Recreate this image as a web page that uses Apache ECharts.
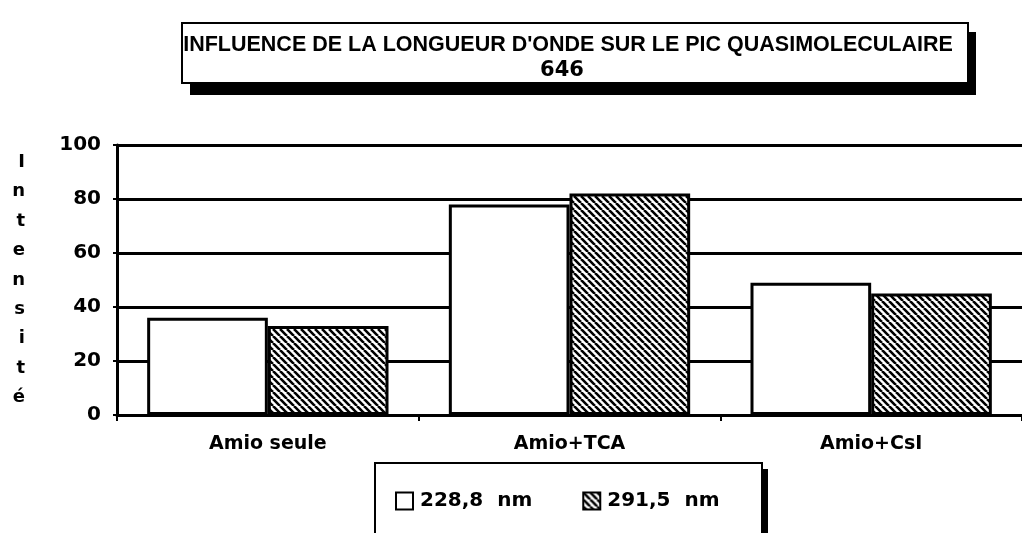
<!DOCTYPE html>
<html>
<head>
<meta charset="utf-8">
<script src="https://cdn.jsdelivr.net/npm/echarts@6/dist/echarts.min.js"></script>
<style>
  html, body { margin: 0; padding: 0; background: #fff; }
  #chart { width: 1022px; height: 533px; }
</style>
</head>
<body>
<div id="chart"></div>
<script>
// Intensité du pic quasimoléculaire 646 selon la longueur d'onde
const categories = ['Amio seule', 'Amio+TCA', 'Amio+CsI'];
const seriesNames = ['228,8  nm', '291,5  nm'];
const values228 = [36, 78, 49];
const values291 = [33, 82, 45];
const yTicks = { min: 0, max: 100, interval: 20 };
const titleLines = ["INFLUENCE DE LA LONGUEUR D'ONDE SUR LE PIC QUASIMOLECULAIRE", '646'];
const yName = 'Intensité';

// Diagonal hatching tile (black lines on white, "\" direction)
function hatchTile() {
  const n = 7;
  const c = document.createElement('canvas');
  c.width = n; c.height = n;
  const g = c.getContext('2d');
  g.fillStyle = '#fff';
  g.fillRect(0, 0, n, n);
  g.strokeStyle = '#000';
  g.lineWidth = 2.6;
  g.beginPath();
  [-n, 0, n].forEach(function (o) { g.moveTo(o, 0); g.lineTo(o + n, n); });
  g.stroke();
  return c;
}

const chart = echarts.init(document.getElementById('chart'), null, { renderer: 'canvas' });
const digitFont = 'DejaVu Sans';

chart.setOption({
  animation: false,
  backgroundColor: '#fff',
  grid: { left: 117, right: 0, top: 145, bottom: 118, containLabel: false },
  graphic: [
    // title box with drop shadow
    { type: 'rect', z: 0, shape: { x: 190, y: 32, width: 786, height: 63 }, style: { fill: '#000' } },
    { type: 'rect', z: 1, shape: { x: 182, y: 23, width: 786, height: 60 }, style: { fill: '#fff', stroke: '#000', lineWidth: 2 } },
    { type: 'text', z: 2, style: { text: titleLines[0], x: 568, y: 45, textAlign: 'center', textVerticalAlign: 'middle',
        font: 'bold 21.5px "Liberation Sans"', fill: '#000' } },
    { type: 'text', z: 2, style: { text: titleLines[1], x: 562, y: 71, textAlign: 'center', textVerticalAlign: 'middle',
        font: 'bold 21px "DejaVu Sans"', fill: '#000' } },
    // legend box with drop shadow
    { type: 'rect', z: 0, shape: { x: 381, y: 469, width: 387, height: 100 }, style: { fill: '#000' } },
    { type: 'rect', z: 1, shape: { x: 375, y: 463, width: 387, height: 100 }, style: { fill: '#fff', stroke: '#000', lineWidth: 2 } }
  ],
  legend: {
    left: 390, top: 486, z: 10,
    itemWidth: 17, itemHeight: 17, itemGap: 50,
    icon: 'rect',
    textStyle: { fontFamily: digitFont, fontWeight: 'bold', fontSize: 20, color: '#000', padding: [0, 0, 0, 2] },
    data: seriesNames
  },
  xAxis: {
    type: 'category',
    data: categories,
    axisLine: { lineStyle: { color: '#000', width: 3 } },
    axisTick: { show: true, alignWithLabel: false, length: 6, lineStyle: { color: '#000', width: 2 } },
    axisLabel: { margin: 20, color: '#000', fontFamily: digitFont, fontWeight: 'bold', fontSize: 19 },
    splitLine: { show: false }
  },
  yAxis: {
    type: 'value',
    min: yTicks.min, max: yTicks.max, interval: yTicks.interval,
    name: yName.split('').join('\n'),
    nameLocation: 'middle',
    nameRotate: 0,
    nameGap: 92,
    nameTextStyle: { color: '#000', fontFamily: digitFont, fontWeight: 'bold', fontSize: 18, lineHeight: 29.4 },
    axisLine: { show: true, lineStyle: { color: '#000', width: 3 } },
    axisTick: { show: true, length: 4, lineStyle: { color: '#000', width: 2 } },
    axisLabel: { margin: 16, color: '#000', fontFamily: digitFont, fontWeight: 'bold', fontSize: 20 },
    splitLine: { show: true, lineStyle: { color: '#000', width: 3 } }
  },
  series: [
    {
      name: seriesNames[0], type: 'bar', data: values228,
      barGap: '0%', barCategoryGap: '20%',
      itemStyle: { color: '#fff', borderColor: '#000', borderWidth: 3 }
    },
    {
      name: seriesNames[1], type: 'bar', data: values291,
      barGap: '0%', barCategoryGap: '20%',
      itemStyle: { color: { image: hatchTile(), repeat: 'repeat' }, borderColor: '#000', borderWidth: 3 }
    }
  ]
});
</script>
</body>
</html>
